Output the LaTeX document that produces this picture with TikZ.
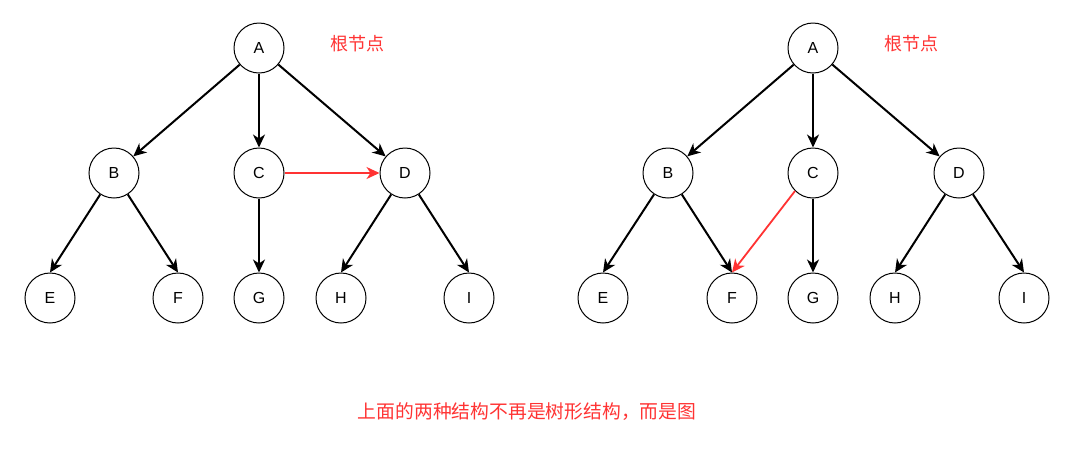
\documentclass[tikz,border=0pt]{standalone}
\usepackage{fontspec}
\setmainfont{Liberation Sans}
\newfontfamily\cjk{Noto Sans CJK SC}
\usetikzlibrary{arrows.meta}
\definecolor{redc}{HTML}{FF3333}
\tikzset{
  vtx/.style={circle,draw=black,line width=1pt,minimum size=50pt,inner sep=0pt,font=\fontsize{16}{16}\selectfont},
  arr/.style={line width=2pt,-{Stealth[length=13pt,width=12pt,inset=4pt]}},
  redarr/.style={arr,draw=redc,line width=1.8pt,-{Stealth[length=13pt,width=12pt,inset=4pt,fill=redc]}},
  lbl/.style={text=redc,font=\cjk\fontsize{18}{18}\selectfont,inner sep=0pt},
}
\begin{document}
\begin{tikzpicture}[x=1pt,y=-1pt]
\useasboundingbox (0,0) rectangle (1091,451);
% left tree
\node[vtx] (A1) at (259,48) {A};
\node[vtx] (B1) at (114,173) {B};
\node[vtx] (C1) at (259,173) {C};
\node[vtx] (D1) at (405,173) {D};
\node[vtx] (E1) at (50,298) {E};
\node[vtx] (F1) at (178,298) {F};
\node[vtx] (G1) at (259,298) {G};
\node[vtx] (H1) at (341,298) {H};
\node[vtx] (I1) at (469,298) {I};
\node[lbl] (R1) at (357,44) {根节点};
\draw[arr] (A1) -- (B1);
\draw[arr] (A1) -- (C1);
\draw[arr] (A1) -- (D1);
\draw[arr] (B1) -- (E1.north);
\draw[arr] (B1) -- (F1.north);
\draw[arr] (C1) -- (G1);
\draw[arr] (D1) -- (H1.north);
\draw[arr] (D1) -- (I1.north);
\draw[redarr] (C1) -- (D1);
% right tree
\node[vtx] (A2) at (813,48) {A};
\node[vtx] (B2) at (668,173) {B};
\node[vtx] (C2) at (813,173) {C};
\node[vtx] (D2) at (959,173) {D};
\node[vtx] (E2) at (603,298) {E};
\node[vtx] (F2) at (732,298) {F};
\node[vtx] (G2) at (813,298) {G};
\node[vtx] (H2) at (895,298) {H};
\node[vtx] (I2) at (1024,298) {I};
\node[lbl] (R2) at (911,44) {根节点};
\draw[arr] (A2) -- (B2);
\draw[arr] (A2) -- (C2);
\draw[arr] (A2) -- (D2);
\draw[arr] (B2) -- (E2.north);
\draw[arr] (B2) -- (F2.north);
\draw[arr] (C2) -- (G2);
\draw[arr] (D2) -- (H2.north);
\draw[arr] (D2) -- (I2.north);
\draw[redarr] (C2.south west) -- (F2.north);
% caption
\node[lbl,font=\cjk\fontsize{18.8}{18.8}\selectfont] (T) at (527,412) {上面的两种结构不再是树形结构，而是图};
\end{tikzpicture}
\end{document}
